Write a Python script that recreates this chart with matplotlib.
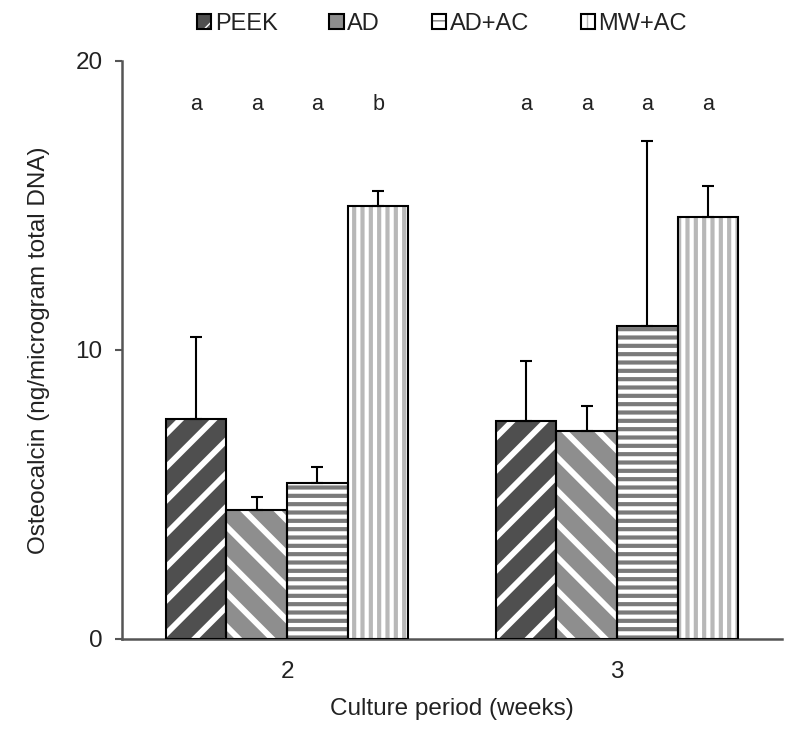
import numpy as np
import matplotlib
matplotlib.use("Agg")
import matplotlib.pyplot as plt

# Data
weeks = ["2", "3"]
groups = ["PEEK", "AD", "AD+AC", "MW+AC"]
means = {
    "PEEK": [7.6, 7.55],
    "AD": [4.45, 7.2],
    "AD+AC": [5.4, 10.83],
    "MW+AC": [14.98, 14.6],
}
sd = {
    "PEEK": [2.85, 2.08],
    "AD": [0.46, 0.86],
    "AD+AC": [0.55, 6.4],
    "MW+AC": [0.52, 1.07],
}
letters = {
    "PEEK": ["a", "a"],
    "AD": ["a", "a"],
    "AD+AC": ["a", "a"],
    "MW+AC": ["b", "a"],
}

# Styles: (face, hatch colour, hatch, hatch linewidth)
styles = {
    "PEEK": ("#4f4f4f", "white", "/", 4.2),
    "AD": ("#8e8e8e", "white", "\\", 4.2),
    "AD+AC": ("white", "#7a7a7a", "--", 3.0),
    "MW+AC": ("white", "#b8b8b8", "||", 3.0),
}

plt.rcParams['font.family'] = ['Liberation Sans', 'DejaVu Sans']
text_col = "#222222"

fig = plt.figure(figsize=(8, 7.41), dpi=100)
ax = fig.add_axes([0.1525, 0.1377, 0.825, 0.78])

x = np.arange(len(weeks))
w = 0.184
handles = []
for i, g in enumerate(groups):
    pos = x + (i - 1.5) * w
    face, hcol, hatch, hlw = styles[g]
    with plt.rc_context({'hatch.linewidth': hlw}):
        hb = ax.bar(pos, means[g], w, color=face, edgecolor=hcol, hatch=hatch,
                    linewidth=0, zorder=2)
    for p in hb:
        if hasattr(p, "set_hatch_linewidth"):
            p.set_hatch_linewidth(hlw)
    ob = ax.bar(pos, means[g], w, fill=False, edgecolor="black",
                linewidth=1.5, zorder=3)
    ax.errorbar(pos, means[g], yerr=[np.zeros(len(weeks)), sd[g]], fmt="none",
                ecolor="black", elinewidth=1.5, capsize=4.5, capthick=1.5, zorder=4)
    for xp, lab in zip(pos, letters[g]):
        ax.text(xp, 18.5, lab, ha="center", va="center", fontsize=15.5, color=text_col)
    handles.append((hb[0], ob[0]))

ax.set_xlim(-0.5, 1.5)
ax.set_ylim(0, 20)
ax.set_yticks([0, 10, 20])
ax.set_xticks(x)
ax.set_xticklabels(weeks)
ax.tick_params(axis="y", length=5, width=1.5, color="#555555", pad=9,
               labelsize=17.5, labelcolor=text_col)
ax.tick_params(axis="x", length=0, pad=16, labelsize=17.5, labelcolor=text_col)
for s in ["top", "right"]:
    ax.spines[s].set_visible(False)
for s in ["left", "bottom"]:
    ax.spines[s].set_color("#555555")
    ax.spines[s].set_linewidth(1.8)

ax.set_xlabel("Culture period (weeks)", fontsize=17.5, color=text_col, labelpad=11)
ax.set_ylabel("Osteocalcin (ng/microgram total DNA)", fontsize=17.5,
              color=text_col, labelpad=18)

fig.legend(handles, groups, loc="center", bbox_to_anchor=(0.5525, 0.968), ncol=4,
           frameon=False, fontsize=17, handlelength=0.6, handleheight=0.6,
           handletextpad=0.15, columnspacing=2.2, labelcolor=text_col)

fig.savefig("out.png", dpi=100)
